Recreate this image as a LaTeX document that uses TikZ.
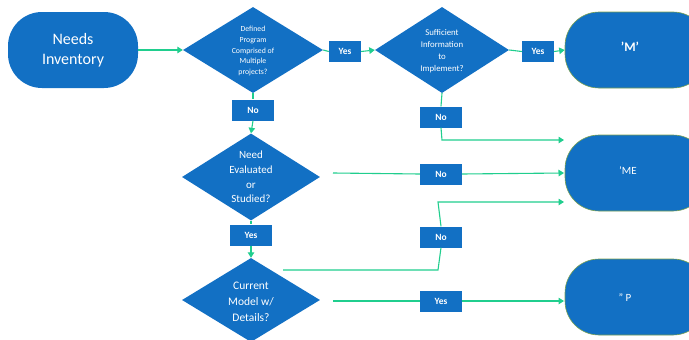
\documentclass[tikz,border=0pt]{standalone}
\usepackage{fontspec}
\setmainfont{Carlito}
\usetikzlibrary{shapes.geometric,arrows.meta}
\definecolor{fblue}{RGB}{18,112,196}
\definecolor{lgreen}{RGB}{32,206,142}
\definecolor{tedge}{RGB}{120,160,80}
\begin{document}
\begin{tikzpicture}[x=1pt,y=-1pt,
  dia/.style={shape=diamond, fill=fblue, minimum width=140pt, minimum height=86pt, inner sep=0pt},
  dtext/.style={text=white, align=center, inner sep=0pt},
  term/.style={shape=rectangle, rounded corners=34pt, fill=fblue, minimum height=76pt, inner sep=0pt, text=white},
  rterm/.style={term, draw=tedge, line width=0.6pt, minimum width=142pt},
  lbl/.style={fill=fblue, text=white, font=\bfseries\fontsize{9.5}{10}\selectfont, minimum width=42pt, minimum height=21pt, inner sep=0pt},
  flow/.style={draw=lgreen, line width=1.1pt},
  arr/.style={flow, -{Triangle[length=5.5pt,width=6.5pt]}}]
\clip (0,0) rectangle (689,340);
\fill[white] (0,0) rectangle (689,340);
% terminals
\node[term, minimum width=130pt, font=\fontsize{16}{20}\selectfont, align=center] (inv) at (73,50) {Needs\\Inventory};
\node[rterm] (t1) at (636,50) {};
\node[rterm] (t2) at (636,173) {};
\node[rterm] (t3) at (636,297) {};
\node[text=white, font=\bfseries\fontsize{13}{14}\selectfont] (t1t) at (630,47) {'M'};
\node[text=white, font=\fontsize{11}{12}\selectfont] (t2t) at (628,171) {'ME};
\node[text=white, font=\fontsize{11}{12}\selectfont] (t3t) at (625,298) {'' P};
% diamonds
\node[dia] (d1) at (253,50) {};
\node[dtext, font=\fontsize{7.8}{10.7}\selectfont] (d1t) at (253,51) {Defined\\Program\\Comprised of\\Multiple\\projects?};
\node[dia, minimum width=134pt] (d2) at (442,50) {};
\node[dtext, font=\fontsize{8.8}{12}\selectfont] (d2t) at (442,51) {Sufficient\\Information\\to\\Implement?};
\node[dia, minimum width=138pt, minimum height=87pt] (d3) at (251,177) {};
\node[dtext, font=\fontsize{11}{14.7}\selectfont] (d3t) at (251,177) {Need\\Evaluated\\or\\Studied?};
\node[dia, minimum width=138pt, minimum height=84pt] (d4) at (251,300) {};
\node[dtext, font=\fontsize{11.5}{16}\selectfont] (d4t) at (251,302) {Current\\Model w/\\Details?};
% coordinates
\coordinate (c1) at (442,140);
\coordinate (c1e) at (564,140);
\coordinate (d3r) at (333,173);
\coordinate (t2a) at (564,173);
\coordinate (d4r) at (333,301);
\coordinate (t3a) at (564,301);
\coordinate (d4a) at (283,270);
\coordinate (c2) at (438,270);
\coordinate (c3) at (438,202);
\coordinate (c3e) at (564,202);
% labels
\node[lbl, minimum width=32pt] (y1) at (345,51.5) {Yes};
\node[lbl, minimum width=32pt] (y2) at (538,51.5) {Yes};
\node[lbl] (n1) at (253,110) {No};
\node[lbl] (n2) at (441,117) {No};
\node[lbl] (n3) at (441,174) {No};
\node[lbl] (y3) at (251,235) {Yes};
\node[lbl] (n4) at (441,237) {No};
\node[lbl] (y4) at (441,301) {Yes};
% connectors
\draw[arr] (inv.east) -- (d1.west);
\draw[flow] (d1.east) -- (y1.west);
\draw[arr] (y1.east) -- (d2.west);
\draw[flow] (d2.east) -- (y2.west);
\draw[arr] (y2.east) -- (t1.west);
\draw[flow] (d1.south) -- (n1.north);
\draw[arr] (n1.south) -- (d3.north);
\draw[flow] (d2.south) -- (n2.north);
\draw[arr] (n2.south) -- (c1) -- (c1e);
\draw[flow] (d3r) -- (n3.west);
\draw[arr] (n3.east) -- (t2a);
\draw[flow] (d3.south) -- (y3.north);
\draw[arr] (y3.south) -- (d4.north);
\draw[flow] (d4a) -- (c2) -- (n4.south);
\draw[arr] (n4.north) -- (c3) -- (c3e);
\draw[flow] (d4r) -- (y4.west);
\draw[arr] (y4.east) -- (t3a);
\end{tikzpicture}
\end{document}
